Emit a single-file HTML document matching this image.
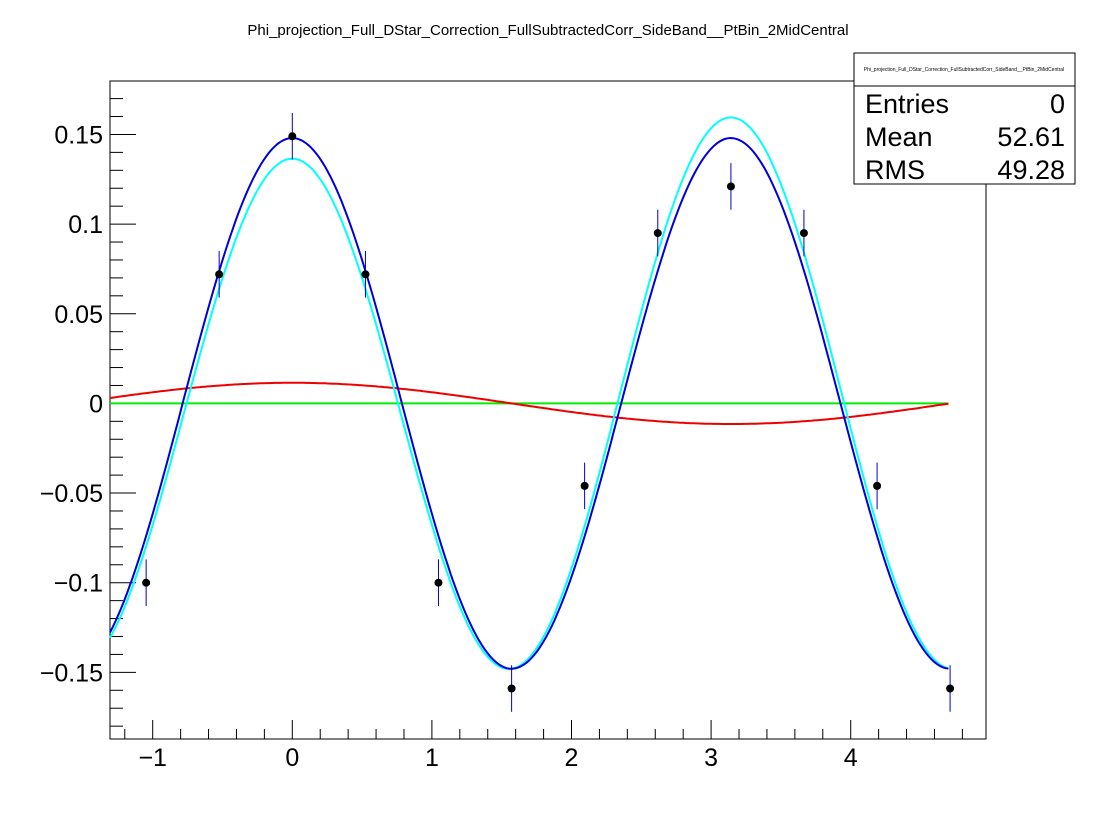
<!DOCTYPE html>
<html><head><meta charset="utf-8"><style>
body{margin:0;background:#fff;}
svg{display:block;font-family:"Liberation Sans",sans-serif;}
</style></head><body>
<svg id="c" width="1096" height="822">
<text x="548" y="35" font-size="15" text-anchor="middle">Phi_projection_Full_DStar_Correction_FullSubtractedCorr_SideBand__PtBin_2MidCentral</text>
<g id="plot"></g>
<g>
<rect x="854" y="53" width="221" height="131" fill="#fff" stroke="#000" stroke-width="1"/>
<line x1="854" y1="86" x2="1075" y2="86" stroke="#000"/>
<text x="964" y="71" font-size="5" text-anchor="middle">Phi_projection_Full_DStar_Correction_FullSubtractedCorr_SideBand__PtBin_2MidCentral</text>
<text x="865" y="113" font-size="27">Entries</text><text x="1065" y="113" font-size="27" text-anchor="end">0</text>
<text x="865" y="146" font-size="27">Mean</text><text x="1065" y="146" font-size="27" text-anchor="end">52.61</text>
<text x="865" y="179" font-size="27">RMS</text><text x="1065" y="179" font-size="27" text-anchor="end">49.28</text>
</g>
</svg>
<script>
const xs=[-1.047,-0.524,0,0.524,1.047,1.571,2.094,2.618,3.142,3.665,4.189,4.712];
const ys=[-0.100,0.072,0.149,0.072,-0.100,-0.159,-0.046,0.095,0.121,0.095,-0.046,-0.159];
const errs=[0.013,0.013,0.013,0.013,0.013,0.013,0.013,0.013,0.013,0.013,0.013,0.013];
const xTicks=[-1,0,1,2,3,4];
const yTicks=[-0.15,-0.1,-0.05,0,0.05,0.1,0.15];
const yLabels=["\u22120.15","\u22120.1","\u22120.05","0","0.05","0.1","0.15"];
const ampBlue=[0.148];
const ampRed=[0.0115];
const L=110,R=986,T=81,B=739;
const X=v=>292.3+v*139.6;
const Y=v=>403.4-v*1793;
const NS="http://www.w3.org/2000/svg";
const g=document.getElementById('plot');
function mk(t,a,p){const e=document.createElementNS(NS,t);for(const k in a)e.setAttribute(k,a[k]);(p||g).appendChild(e);return e;}
const frame=mk('rect',{x:L,y:T,width:R-L,height:B-T,fill:'none',stroke:'#000'});


for(let v=-1.2;v<=4.9;v+=0.2){const r=Math.round(v*10)/10;const maj=Math.abs(r-Math.round(r))<1e-6;
const t=mk('line',{x1:X(r),x2:X(r),y1:B,y2:B-(maj?19:10),stroke:'#000'});

}
xTicks.forEach(v=>{const t=mk('text',{x:X(v),y:766,'font-size':25,'text-anchor':'middle'});t.textContent=v<0?'\u2212'+(-v):String(v);

});
for(let i=-18;i<=17;i++){const v=i*0.01;const maj=i%5===0;
const t=mk('line',{x1:L,x2:L+(maj?26:13),y1:Y(v),y2:Y(v),stroke:'#000'});

}
yTicks.forEach((v,i)=>{const t=mk('text',{x:103,y:Y(v)+9,'font-size':25,'text-anchor':'end'});t.textContent=yLabels[i];

});
function curve(f,col,name,x0,x1){let d='';for(let i=0;i<=300;i++){const x=x0+(x1-x0)*i/300;d+=(i?'L':'M')+X(x).toFixed(1)+','+Y(f(x)).toFixed(1);}
const p=mk('path',{d:d,fill:'none',stroke:col,'stroke-width':2});

}
const x0=-1.306,x1=4.7;
curve(x=>0,'#00ee00','baseline-fit',x0,x1);
curve(x=>ampRed[0]*Math.cos(x),'#ee0000','red-fit',x0,x1);
curve(x=>ampBlue[0]*Math.cos(2*x)-ampRed[0]*Math.cos(x),'#00ffff','cyan-fit',x0,x1);
curve(x=>ampBlue[0]*Math.cos(2*x),'#0000dd','blue-fit',x0,x1);
xs.forEach((x,i)=>{
const e=mk('line',{x1:X(x),x2:X(x),y1:Y(ys[i]+errs[i]),y2:Y(ys[i]-errs[i]),stroke:'#0000cc','stroke-width':1});


const c=mk('circle',{cx:X(x),cy:Y(ys[i]),r:4,fill:'#000'});


});
</script>
</body></html>
